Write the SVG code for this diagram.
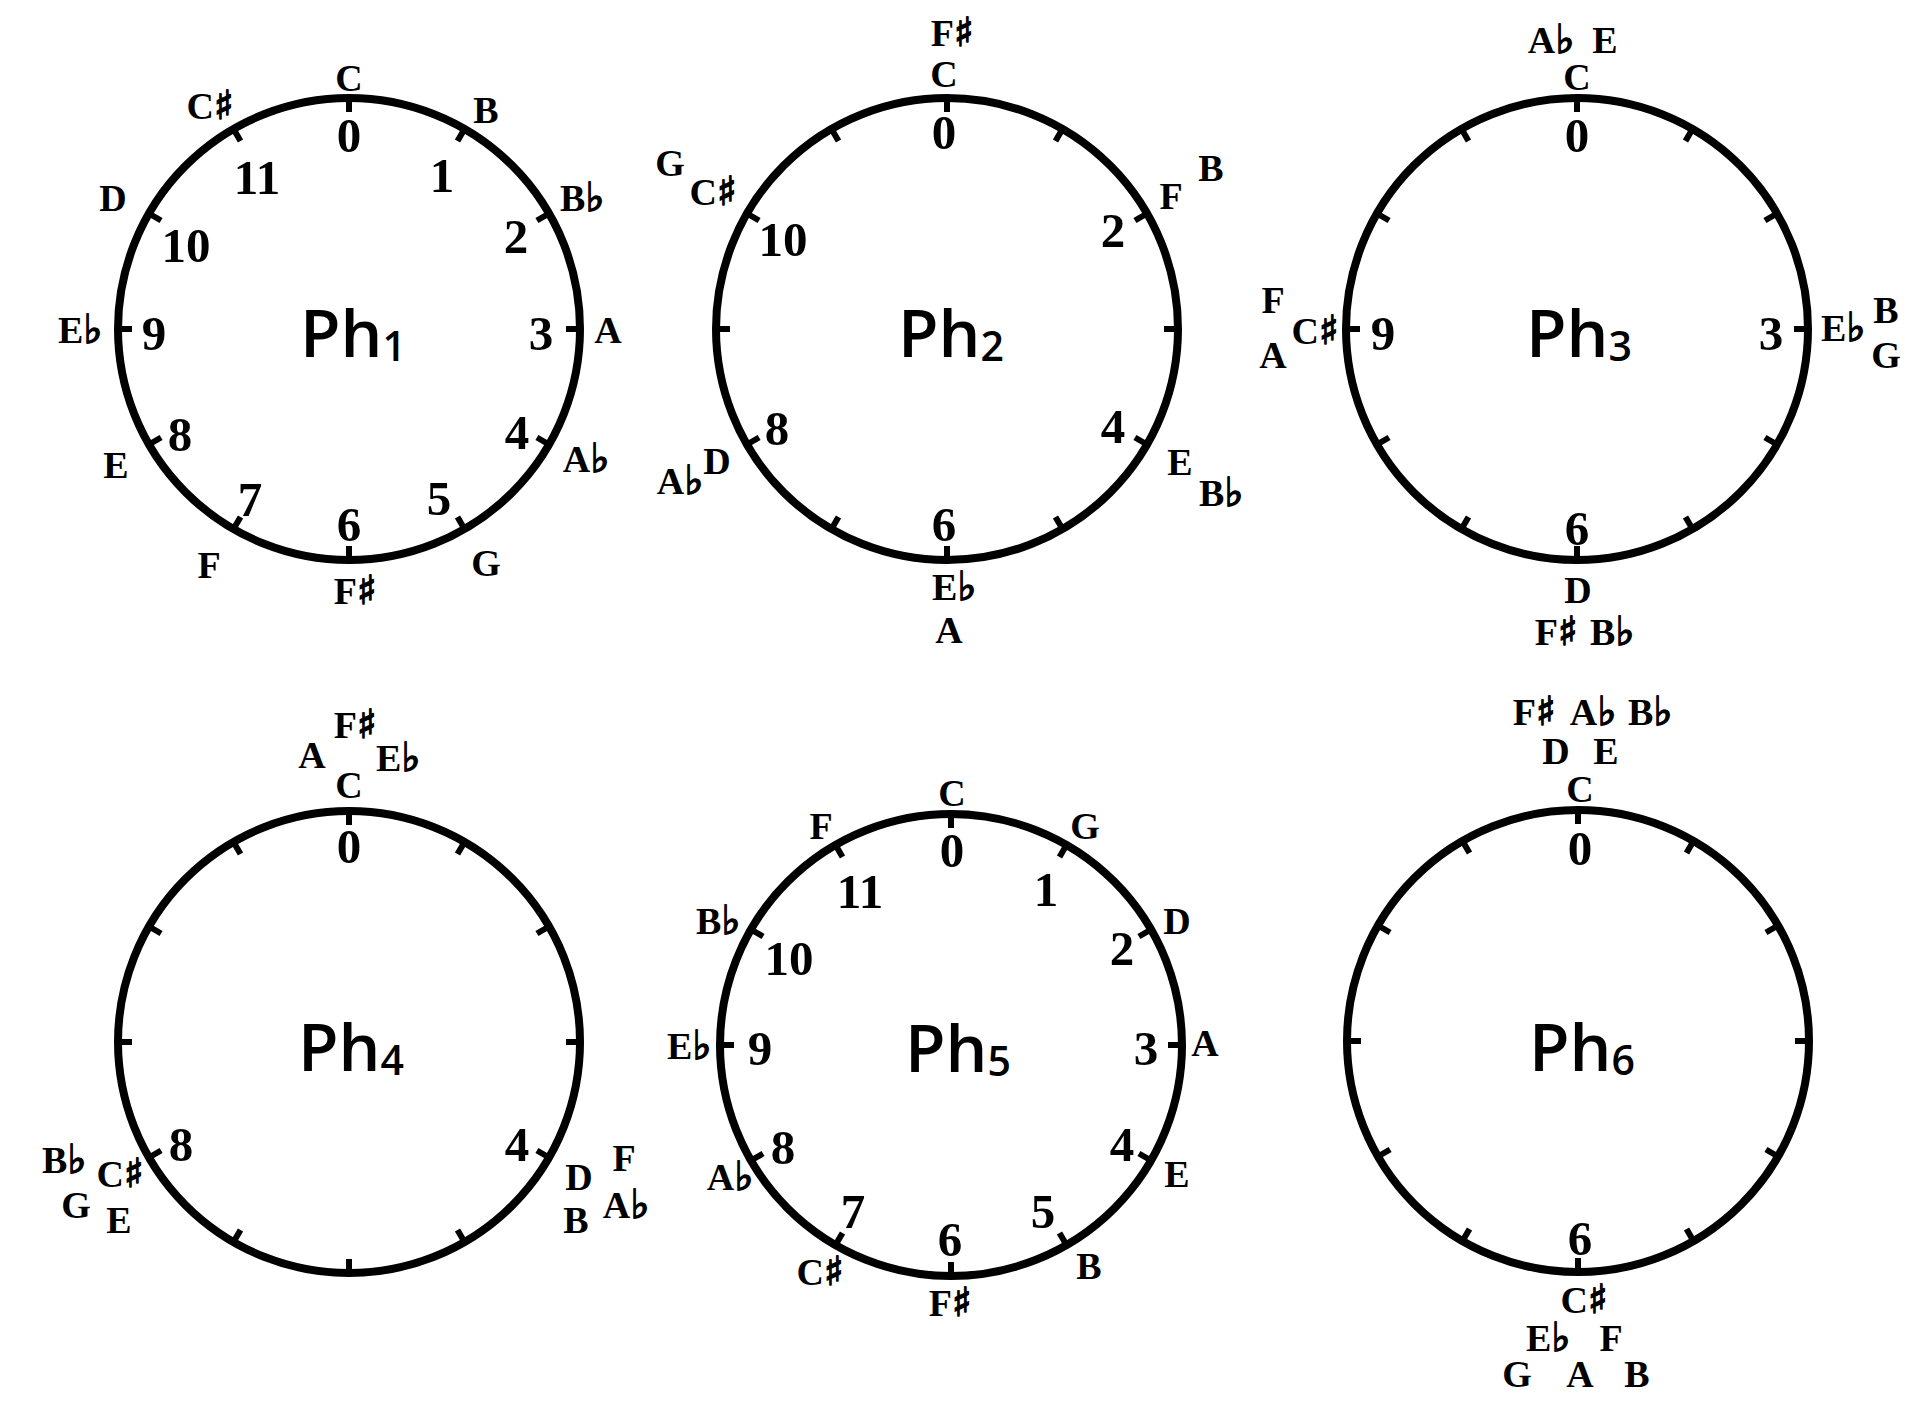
<svg xmlns="http://www.w3.org/2000/svg" xmlns:xlink="http://www.w3.org/1999/xlink" width="1918" height="1408" viewBox="0 0 1918 1408">
<style>
.circ{fill:none;stroke:#000;stroke-width:8}
.tick{stroke:#000;stroke-width:6}
.num{font-family:"Liberation Serif",serif;font-weight:bold;font-size:49px;text-anchor:middle;fill:#000}
.note{font-family:"Liberation Serif",serif;font-weight:bold;font-size:38px;text-anchor:middle;fill:#000}
.acc{font-family:"DejaVu Sans",sans-serif;font-weight:bold;font-size:40px;stroke:#000;stroke-width:1.6px}
.ph{font-family:"Open Sans",sans-serif;font-weight:600;font-size:66px;text-anchor:middle;fill:#000}
.sub{font-size:41px}
</style>
<defs>
<g id="dial">
<circle class="circ" cx="0" cy="0" r="231"/>
<g class="ticks">
<line class="tick" x1="0" y1="-231" x2="0" y2="-217"/>
<line class="tick" x1="0" y1="-231" x2="0" y2="-217" transform="rotate(30)"/>
<line class="tick" x1="0" y1="-231" x2="0" y2="-217" transform="rotate(60)"/>
<line class="tick" x1="0" y1="-231" x2="0" y2="-217" transform="rotate(90)"/>
<line class="tick" x1="0" y1="-231" x2="0" y2="-217" transform="rotate(120)"/>
<line class="tick" x1="0" y1="-231" x2="0" y2="-217" transform="rotate(150)"/>
<line class="tick" x1="0" y1="-231" x2="0" y2="-217" transform="rotate(180)"/>
<line class="tick" x1="0" y1="-231" x2="0" y2="-217" transform="rotate(210)"/>
<line class="tick" x1="0" y1="-231" x2="0" y2="-217" transform="rotate(240)"/>
<line class="tick" x1="0" y1="-231" x2="0" y2="-217" transform="rotate(270)"/>
<line class="tick" x1="0" y1="-231" x2="0" y2="-217" transform="rotate(300)"/>
<line class="tick" x1="0" y1="-231" x2="0" y2="-217" transform="rotate(330)"/>
</g>
</g>
</defs>
<rect width="1918" height="1408" fill="#fff"/>
<g id="connectors"></g>

<g id="ph1">
<use xlink:href="#dial" href="#dial" transform="translate(349,329)"/>
<text class="ph" x="353" y="357">Ph<tspan class="sub" dy="4">1</tspan></text>
<text class="note" x="349" y="91">C</text>
<text class="note" x="486" y="123">B</text>
<text class="note" x="210" y="119">C<tspan class="acc">♯</tspan></text>
<text class="note" x="582" y="211">B<tspan class="acc">♭</tspan></text>
<text class="note" x="113" y="211">D</text>
<text class="note" x="608" y="343">A</text>
<text class="note" x="80" y="343">E<tspan class="acc">♭</tspan></text>
<text class="note" x="586" y="472">A<tspan class="acc">♭</tspan></text>
<text class="note" x="116" y="478">E</text>
<text class="note" x="486" y="576">G</text>
<text class="note" x="209" y="578">F</text>
<text class="note" x="355" y="604">F<tspan class="acc">♯</tspan></text>
<text class="num" x="349" y="152">0</text>
<text class="num" x="442" y="192">1</text>
<text class="num" x="257" y="194">11</text>
<text class="num" x="516" y="253">2</text>
<text class="num" x="186" y="262">10</text>
<text class="num" x="541" y="350">3</text>
<text class="num" x="154" y="350">9</text>
<text class="num" x="517" y="449">4</text>
<text class="num" x="180" y="451">8</text>
<text class="num" x="439" y="515">5</text>
<text class="num" x="250" y="516">7</text>
<text class="num" x="349" y="541">6</text>
</g>

<g id="ph2">
<use xlink:href="#dial" href="#dial" transform="translate(947,329)"/>
<text class="ph" x="951" y="357">Ph<tspan class="sub" dy="4">2</tspan></text>
<text class="note" x="952" y="46">F<tspan class="acc">♯</tspan></text>
<text class="note" x="944" y="87">C</text>
<text class="note" x="1211" y="181">B</text>
<text class="note" x="1171" y="209">F</text>
<text class="note" x="670" y="176">G</text>
<text class="note" x="713" y="205">C<tspan class="acc">♯</tspan></text>
<text class="note" x="717" y="474">D</text>
<text class="note" x="680" y="494">A<tspan class="acc">♭</tspan></text>
<text class="note" x="1180" y="475">E</text>
<text class="note" x="1221" y="506">B<tspan class="acc">♭</tspan></text>
<text class="note" x="954" y="600">E<tspan class="acc">♭</tspan></text>
<text class="note" x="949" y="643">A</text>
<text class="num" x="944" y="149">0</text>
<text class="num" x="1113" y="247">2</text>
<text class="num" x="783" y="256">10</text>
<text class="num" x="777" y="445">8</text>
<text class="num" x="1113" y="443">4</text>
<text class="num" x="944" y="541">6</text>
</g>

<g id="ph3">
<use xlink:href="#dial" href="#dial" transform="translate(1577,329)"/>
<text class="ph" x="1579" y="357">Ph<tspan class="sub" dy="4">3</tspan></text>
<text class="note" x="1551" y="53">A<tspan class="acc">♭</tspan></text>
<text class="note" x="1605" y="53">E</text>
<text class="note" x="1577" y="90">C</text>
<text class="note" x="1273" y="313">F</text>
<text class="note" x="1273" y="368">A</text>
<text class="note" x="1315" y="344">C<tspan class="acc">♯</tspan></text>
<text class="note" x="1843" y="341">E<tspan class="acc">♭</tspan></text>
<text class="note" x="1886" y="323">B</text>
<text class="note" x="1886" y="368">G</text>
<text class="note" x="1578" y="603">D</text>
<text class="note" x="1556" y="645">F<tspan class="acc">♯</tspan></text>
<text class="note" x="1612" y="645">B<tspan class="acc">♭</tspan></text>
<text class="num" x="1577" y="152">0</text>
<text class="num" x="1383" y="350">9</text>
<text class="num" x="1771" y="350">3</text>
<text class="num" x="1577" y="545">6</text>
</g>

<g id="ph4">
<use xlink:href="#dial" href="#dial" transform="translate(349,1042)"/>
<text class="ph" x="351" y="1071">Ph<tspan class="sub" dy="4">4</tspan></text>
<text class="note" x="355" y="738">F<tspan class="acc">♯</tspan></text>
<text class="note" x="312" y="768">A</text>
<text class="note" x="398" y="771">E<tspan class="acc">♭</tspan></text>
<text class="note" x="349" y="798">C</text>
<text class="note" x="64" y="1173">B<tspan class="acc">♭</tspan></text>
<text class="note" x="120" y="1187">C<tspan class="acc">♯</tspan></text>
<text class="note" x="76" y="1218">G</text>
<text class="note" x="119" y="1233">E</text>
<text class="note" x="579" y="1190">D</text>
<text class="note" x="624" y="1171">F</text>
<text class="note" x="576" y="1233">B</text>
<text class="note" x="626" y="1218">A<tspan class="acc">♭</tspan></text>
<text class="num" x="349" y="863">0</text>
<text class="num" x="181" y="1161">8</text>
<text class="num" x="517" y="1161">4</text>
</g>

<g id="ph5">
<use xlink:href="#dial" href="#dial" transform="translate(951,1045)"/>
<text class="ph" x="958" y="1072">Ph<tspan class="sub" dy="4">5</tspan></text>
<text class="note" x="952" y="806">C</text>
<text class="note" x="1085" y="839">G</text>
<text class="note" x="821" y="839">F</text>
<text class="note" x="718" y="934">B<tspan class="acc">♭</tspan></text>
<text class="note" x="1177" y="934">D</text>
<text class="note" x="689" y="1059">E<tspan class="acc">♭</tspan></text>
<text class="note" x="1205" y="1056">A</text>
<text class="note" x="730" y="1190">A<tspan class="acc">♭</tspan></text>
<text class="note" x="1177" y="1187">E</text>
<text class="note" x="820" y="1285">C<tspan class="acc">♯</tspan></text>
<text class="note" x="1089" y="1279">B</text>
<text class="note" x="950" y="1316">F<tspan class="acc">♯</tspan></text>
<text class="num" x="952" y="867">0</text>
<text class="num" x="1046" y="906">1</text>
<text class="num" x="860" y="908">11</text>
<text class="num" x="1122" y="965">2</text>
<text class="num" x="789" y="975">10</text>
<text class="num" x="1146" y="1065">3</text>
<text class="num" x="760" y="1065">9</text>
<text class="num" x="1122" y="1161">4</text>
<text class="num" x="783" y="1164">8</text>
<text class="num" x="1043" y="1228">5</text>
<text class="num" x="853" y="1228">7</text>
<text class="num" x="950" y="1256">6</text>
</g>

<g id="ph6">
<use xlink:href="#dial" href="#dial" transform="translate(1578,1041)"/>
<text class="ph" x="1582" y="1071">Ph<tspan class="sub" dy="4">6</tspan></text>
<text class="note" x="1534" y="725">F<tspan class="acc">♯</tspan></text>
<text class="note" x="1593" y="725">A<tspan class="acc">♭</tspan></text>
<text class="note" x="1650" y="725">B<tspan class="acc">♭</tspan></text>
<text class="note" x="1556" y="764">D</text>
<text class="note" x="1606" y="764">E</text>
<text class="note" x="1580" y="802">C</text>
<text class="note" x="1584" y="1313">C<tspan class="acc">♯</tspan></text>
<text class="note" x="1548" y="1351">E<tspan class="acc">♭</tspan></text>
<text class="note" x="1611" y="1351">F</text>
<text class="note" x="1517" y="1387">G</text>
<text class="note" x="1580" y="1387">A</text>
<text class="note" x="1637" y="1387">B</text>
<text class="num" x="1580" y="865">0</text>
<text class="num" x="1580" y="1255">6</text>
</g>
</svg>
